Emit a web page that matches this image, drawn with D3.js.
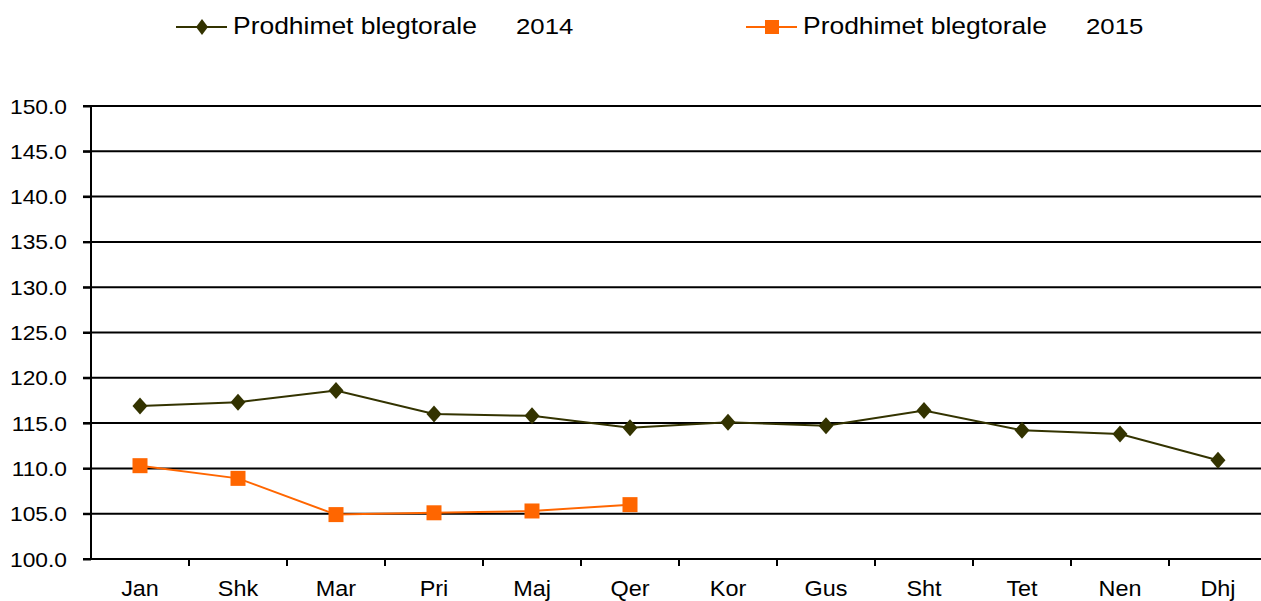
<!DOCTYPE html>
<html><head><meta charset="utf-8">
<script src="https://cdn.jsdelivr.net/npm/d3@7"></script>
<style>body{margin:0;background:#fff;} svg{display:block;font-family:"Liberation Sans",Arial,sans-serif;}</style>
</head><body>
<svg id="chart" width="1261" height="601"></svg>
<script>
const categories = ["Jan","Shk","Mar","Pri","Maj","Qer","Kor","Gus","Sht","Tet","Nen","Dhj"];
const values2014 = [116.9,117.3,118.6,116.0,115.8,114.5,115.1,114.7,116.4,114.2,113.8,110.9];
const values2015 = [110.3,108.9,104.9,105.1,105.3,106.0];
const yTicks = [100,105,110,115,120,125,130,135,140,145,150];
const seriesNames = ["Prodhimet blegtorale", "Prodhimet blegtorale"];
const seriesYears = ["2014","2015"];
const colors = ["#333300","#FF6600"];

(function(){
const svg = d3.select("#chart");
const mLeft = 91, mRight = 1267, mTop = 106, mBottom = 559;
const x = d3.scaleBand().domain(categories).range([mLeft, mRight]);
const y = d3.scaleLinear().domain([100,150]).range([mBottom, mTop]);
const FONT = "Liberation Sans, Arial, sans-serif";

// gridlines
svg.append("g").selectAll("line").data(yTicks).join("line")
  .attr("x1", mLeft-8).attr("x2", 1261)
  .attr("y1", d=>y(d)).attr("y2", d=>y(d))
  .attr("stroke","#000").attr("stroke-width",2);

// y axis
const yAxis = svg.append("g").attr("transform",`translate(${mLeft},0)`)
  .call(d3.axisLeft(y).tickValues(yTicks).tickFormat(d3.format(".1f")).tickSize(8).tickPadding(16));
yAxis.select(".domain").attr("stroke","#000").attr("stroke-width",2).attr("d",`M0,${mTop}V${mBottom}`);
yAxis.selectAll(".tick line").attr("stroke","#000").attr("stroke-width",2);
yAxis.selectAll(".tick text")
  .attr("x",0).attr("dy",null).attr("y",7)
  .attr("transform","translate(-24,0) scale(1.14,1)")
  .attr("font-size",20).attr("fill","#000").attr("font-family",FONT);

// x axis
const xAxis = svg.append("g").attr("transform",`translate(0,${mBottom})`)
  .call(d3.axisBottom(x).tickSize(0));
xAxis.select(".domain").remove();
xAxis.selectAll(".tick text")
  .attr("y",0).attr("dy",null)
  .attr("transform","translate(0,37) scale(1.09,1)")
  .attr("font-size",21.5).attr("fill","#000").attr("font-family",FONT);
svg.append("g").selectAll("line").data(categories.slice(1)).join("line")
  .attr("x1", d=>x(d)).attr("x2", d=>x(d))
  .attr("y1", mBottom).attr("y2", mBottom+7)
  .attr("stroke","#000").attr("stroke-width",2);

const cx = d => x(d) + x.bandwidth()/2;
const line = d3.line().x(d=>cx(d.c)).y(d=>y(d.v));
const d14 = values2014.map((v,i)=>({c:categories[i], v}));
const d15 = values2015.map((v,i)=>({c:categories[i], v}));

svg.append("path").datum(d14).attr("d",line).attr("fill","none").attr("stroke",colors[0]).attr("stroke-width",2);
svg.append("path").datum(d15).attr("d",line).attr("fill","none").attr("stroke",colors[1]).attr("stroke-width",2);

const diamond = (px,py,w,h)=>`M${px},${py-h}L${px+w},${py}L${px},${py+h}L${px-w},${py}Z`;
svg.append("g").selectAll("path").data(d14).join("path")
  .attr("d", d=>diamond(cx(d.c), y(d.v), 7.5, 8.5)).attr("fill",colors[0]);
svg.append("g").selectAll("rect").data(d15).join("rect")
  .attr("x", d=>cx(d.c)-7.5).attr("y", d=>y(d.v)-7.5).attr("width",15).attr("height",15).attr("fill",colors[1]);

// legend
const legendItems = [
  {lx:176, tx:233, yx:516},
  {lx:746, tx:803, yx:1086}
];
const ly = 27;
legendItems.forEach((it,i)=>{
  const g = svg.append("g");
  g.append("line").attr("x1",it.lx).attr("x2",it.lx+51).attr("y1",ly).attr("y2",ly).attr("stroke",colors[i]).attr("stroke-width",2);
  if(i===0) g.append("path").attr("d",diamond(it.lx+26,ly,6,8)).attr("fill",colors[0]);
  else g.append("rect").attr("x",it.lx+26-7).attr("y",ly-7).attr("width",14).attr("height",14).attr("fill",colors[1]);
  g.append("text").attr("transform",`translate(${it.tx},34) scale(1.15,1)`).attr("font-size",23).attr("fill","#000").attr("font-family",FONT).text(seriesNames[i]);
  g.append("text").attr("transform",`translate(${it.yx},34) scale(1.12,1)`).attr("font-size",23).attr("fill","#000").attr("font-family",FONT).text(seriesYears[i]);
});
})();
</script>
</body></html>
